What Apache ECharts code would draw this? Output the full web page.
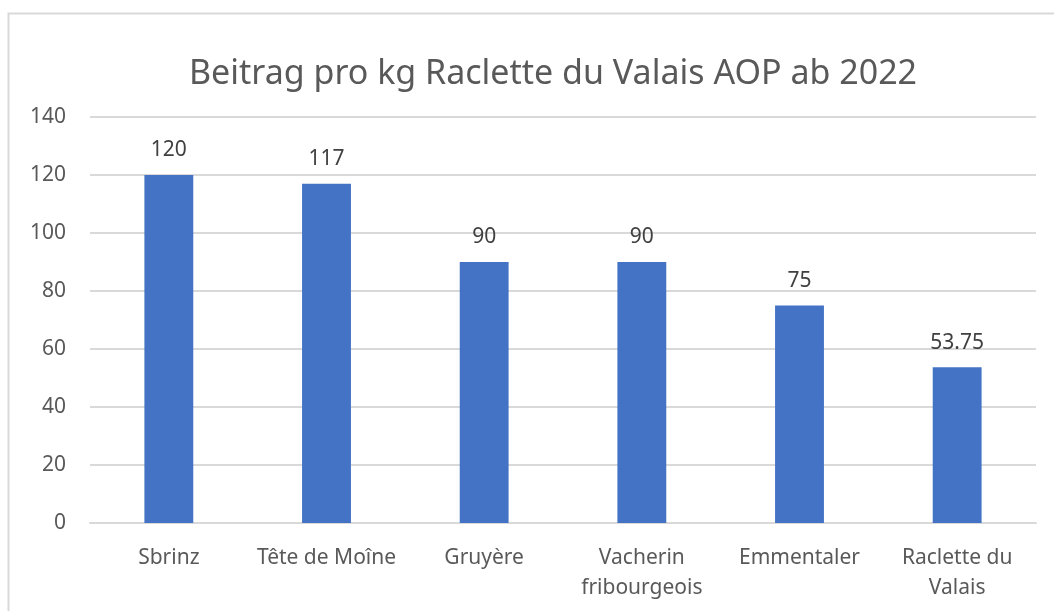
<!DOCTYPE html>
<html><head><meta charset="utf-8">
<script src="https://cdn.jsdelivr.net/npm/echarts@6/dist/echarts.min.js"></script>
<style>html,body{margin:0;padding:0;background:#fff}#c{width:1054px;height:611px}</style>
</head><body><div id="c"></div>
<script>
const categories = ["Sbrinz", "Tête de Moîne", "Gruyère", "Vacherin\nfribourgeois", "Emmentaler", "Raclette du\nValais"];
const values = [120, 117, 90, 90, 75, 53.75];
const titleText = "Beitrag pro kg Raclette du Valais AOP ab 2022";
const FONT = "Noto Sans";
const chart = echarts.init(document.getElementById('c'), null, {renderer: 'canvas'});
chart.setOption({
  animation: false,
  backgroundColor: '#fff',
  graphic: [{type: 'rect', shape: {x: 8.5, y: 13.5, width: 1100, height: 700}, style: {fill: 'none', stroke: '#d9d9d9', lineWidth: 2}, z: -1}],
  title: {text: titleText, left: 548, textAlign: 'center', top: 52,
    textStyle: {fontFamily: FONT, fontSize: 34, fontWeight: 'normal', color: '#595959'}},
  grid: {left: 90, right: 18, top: 117, bottom: 88},
  xAxis: {type: 'category', data: categories,
    axisLine: {show: true, lineStyle: {color: '#d9d9d9', width: 2}},
    axisTick: {show: false},
    axisLabel: {interval: 0, fontFamily: FONT, fontSize: 21, color: '#595959', lineHeight: 30, margin: 20}},
  yAxis: {type: 'value', min: 0, max: 140, interval: 20,
    axisLine: {show: false}, axisTick: {show: false},
    splitLine: {lineStyle: {color: '#d9d9d9', width: 2}},
    axisLabel: {fontFamily: FONT, fontSize: 21, color: '#595959', margin: 24}},
  series: [{type: 'bar', data: values, barWidth: '31%',
    itemStyle: {color: '#4472c4'},
    label: {show: true, position: 'top', distance: 14, fontFamily: FONT, fontSize: 21, color: '#404040'}}]
});
</script></body></html>
